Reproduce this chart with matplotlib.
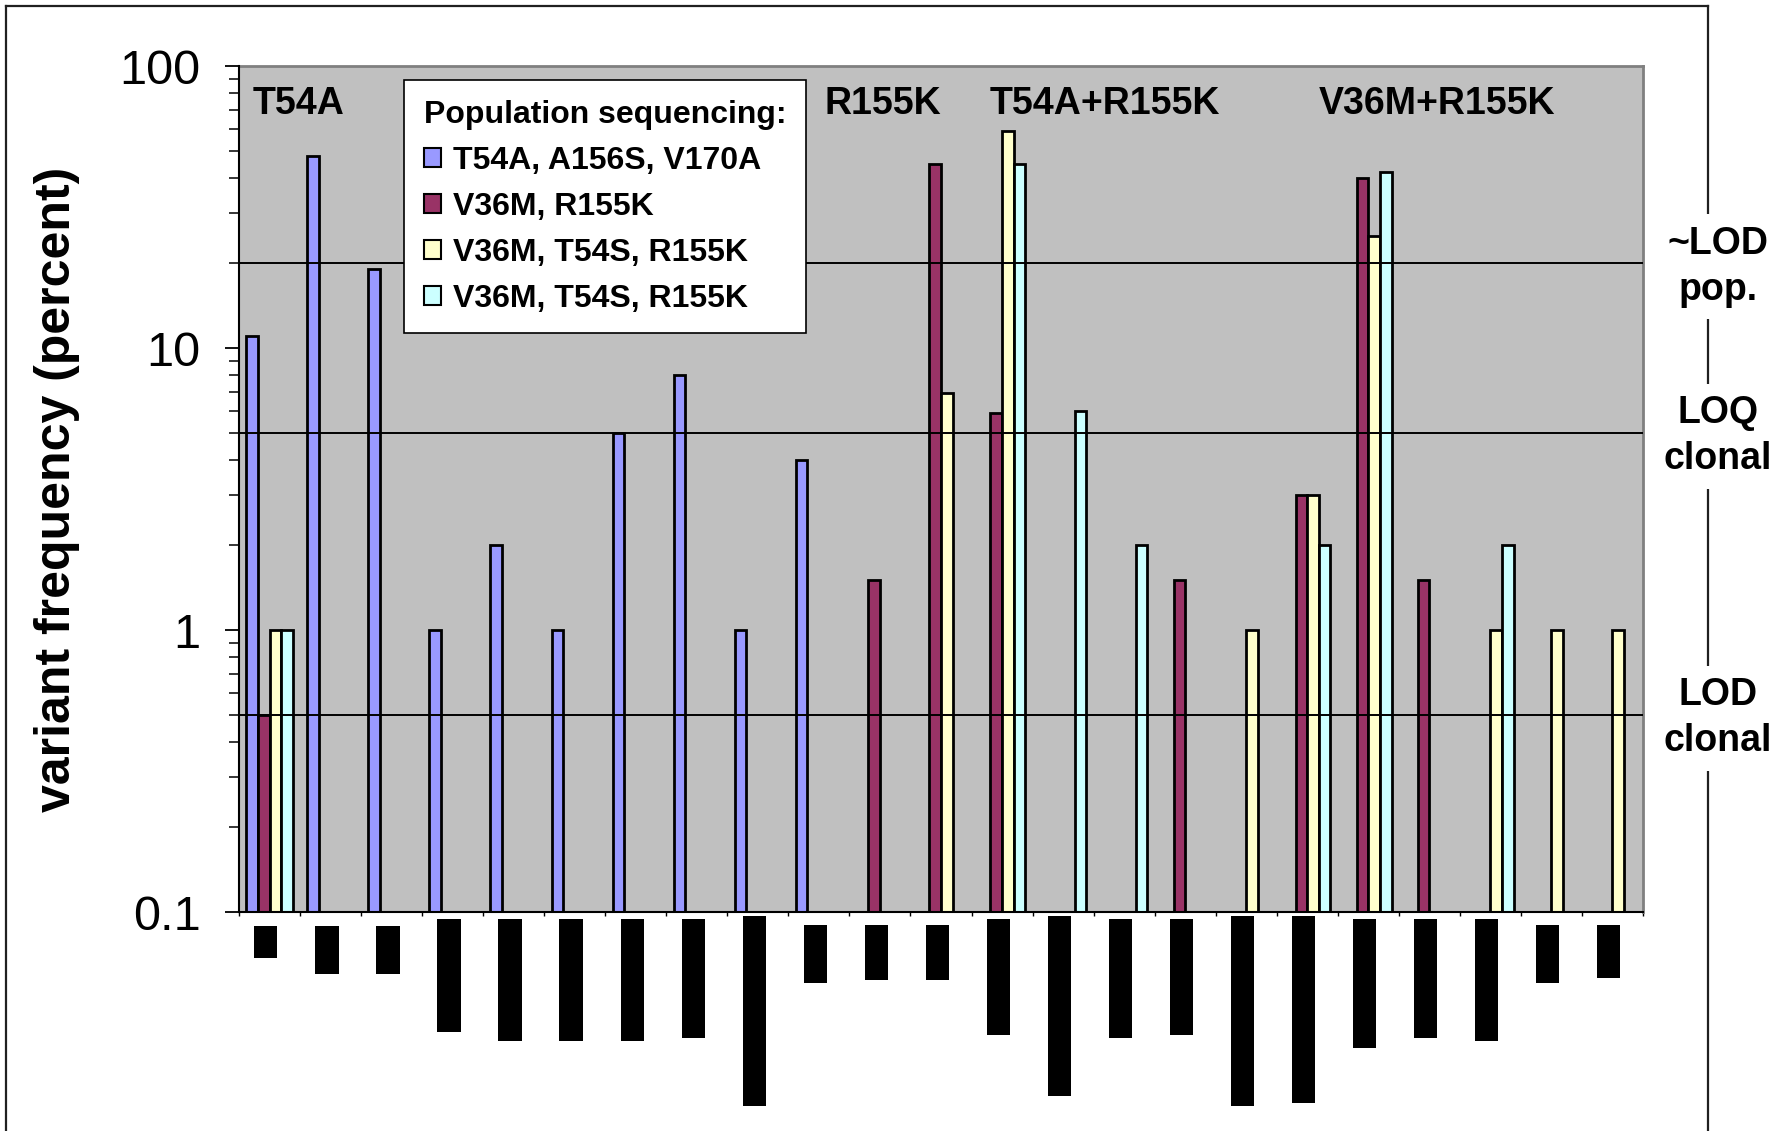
import numpy as np
import matplotlib
matplotlib.use("Agg")
import matplotlib.pyplot as plt
from matplotlib.patches import Patch
from matplotlib.lines import Line2D
from matplotlib.transforms import blended_transform_factory, offset_copy
from matplotlib.ticker import LogLocator, FixedLocator, NullFormatter, FixedFormatter

nan = np.nan

# ---------------- data ----------------
n_groups = 23
series_labels = ["T54A, A156S, V170A", "V36M, R155K", "V36M, T54S, R155K", "V36M, T54S, R155K"]
series_colors = ["#9999FF", "#993366", "#FFFFCC", "#CCFFFF"]

blue   = [11, 48, 19, 1, 2, 1, 5, 8, 1, 4, nan, nan, nan, nan, nan, nan, nan, nan, nan, nan, nan, nan, nan]
maroon = [0.5, nan, nan, nan, nan, nan, nan, nan, nan, nan, 1.5, 45, 5.9, nan, nan, 1.5, nan, 3, 40, 1.5, nan, nan, nan]
yellow = [1, nan, nan, nan, nan, nan, nan, nan, nan, nan, nan, 6.9, 59, nan, nan, nan, 1, 3, 25, nan, 1, 1, 1]
cyan   = [1, nan, nan, nan, nan, nan, nan, nan, nan, nan, nan, nan, 45, 6, 2, nan, nan, 2, 42, nan, 2, nan, nan]

# black bars below the axis (depth units below the category axis)
lower_top    = [12.4, 12.4, 12.4, 6.3, 6.3, 6.3, 6.3, 6.3, 3.6, 11.6, 11.6, 11.6, 6.3, 3.6, 6.3, 6.3, 3.6, 3.6, 6.3, 6.3, 6.3, 11.6, 11.6]
lower_bottom = [40.3, 54.4, 54.4, 105.4, 113.3, 113.3, 113.3, 110.7, 170.5, 62.3, 59.7, 59.7, 108.0, 161.7, 110.7, 108.0, 170.5, 167.8, 119.5, 110.7, 113.3, 62.3, 58.4]

group_titles = ["T54A", "R155K", "T54A+R155K", "V36M+R155K"]
group_title_x = [-0.28, 9.09, 11.79, 17.19]

thresholds = [20, 5, 0.5]
threshold_labels = ["~LOD\npop.", "LOQ\nclonal", "LOD\nclonal"]

ytick_vals = [0.1, 1, 10, 100]
ytick_labels = ["0.1", "1", "10", "100"]

# ---------------- figure ----------------
W, H = 1783, 1131
fig = plt.figure(figsize=(W / 100, H / 100), dpi=100)
FONT = "Liberation Sans"
plt.rcParams["font.family"] = [FONT, "DejaVu Sans"]

ax_l, ax_r, ax_t, ax_b = 239 / W, 1643 / W, 1 - 66 / H, 1 - 912 / H
ax = fig.add_axes([ax_l, ax_b, ax_r - ax_l, ax_t - ax_b])
ax.set_facecolor("#C0C0C0")
ax.set_yscale("log")
ax.set_ylim(0.1, 100)
ax.set_xlim(-0.5, n_groups - 0.5)

x = np.arange(n_groups)
w = 0.19
for k, (vals, col) in enumerate(zip([blue, maroon, yellow, cyan], series_colors)):
    ax.bar(x + (k - 1.5) * w, np.array(vals, dtype=float), width=w, color=col,
           edgecolor="black", linewidth=2.0, zorder=2)

for t in thresholds:
    ax.axhline(t, color="black", linewidth=1.4, zorder=3)

# spines
for s in ["top", "right"]:
    ax.spines[s].set_color("#808080")
    ax.spines[s].set_linewidth(2)
for s in ["left", "bottom"]:
    ax.spines[s].set_color("black")
    ax.spines[s].set_linewidth(1.5)
    ax.spines[s].set_zorder(4)

ax.yaxis.set_major_locator(FixedLocator(ytick_vals))
ax.yaxis.set_major_formatter(FixedFormatter(ytick_labels))
ax.yaxis.set_minor_locator(LogLocator(base=10, subs=np.arange(2, 10)))
ax.yaxis.set_minor_formatter(NullFormatter())
ax.tick_params(axis="y", which="major", length=10, width=1.3, direction="out",
               labelsize=35, pad=17.5, colors="black")
ax.tick_params(axis="y", which="minor", length=7, width=1.1, direction="out", colors="black")
for lab in ax.get_yticklabels():
    lab.set_family(FONT)

ax.xaxis.set_major_locator(FixedLocator(np.arange(-0.5, n_groups, 1.0)))
ax.xaxis.set_major_formatter(NullFormatter())
ax.tick_params(axis="x", which="major", length=3, width=1.0, direction="out", colors="black")

fig.text(57 / W, 1 - 489 / H, "variant frequency (percent)", rotation=90, ha="center", va="center",
         fontsize=36, fontweight="bold", family=FONT)

# group titles
for gx, gt in zip(group_title_x, group_titles):
    ax.text(gx, 0.955, gt, transform=blended_transform_factory(ax.transData, ax.transAxes),
            ha="left", va="center", fontsize=27, fontweight="bold", family=FONT, zorder=6)

# legend
handles = [Patch(facecolor=c, edgecolor="black", linewidth=1.5) for c in series_colors]
leg = ax.legend(handles, series_labels, title="Population sequencing:", loc="upper left",
                bbox_to_anchor=(0.1175, 0.9835), borderaxespad=0, frameon=True, fancybox=False,
                edgecolor="black", framealpha=1, facecolor="white",
                prop={"family": FONT, "weight": "bold", "size": 23},
                title_fontproperties={"family": FONT, "weight": "bold", "size": 23},
                handlelength=0.55, handleheight=0.55, handletextpad=0.35, labelspacing=0.5,
                borderpad=0.62, alignment="left")
leg.get_frame().set_linewidth(1.2)
leg.set_zorder(7)

# lower black bars
axb = fig.add_axes([ax_l, 0, ax_r - ax_l, ax_b])
axb.set_xlim(-0.5, n_groups - 0.5)
axb.set_ylim((H - 912) / 1.137, 0)
axb.bar(x - 0.06, np.array(lower_bottom) - np.array(lower_top), bottom=lower_top, width=0.38, color="black")
axb.axis("off")

# frame (drawn beneath the axes so the labels can cover it)
frame_col = "#202020"
for xs, ys in [([6 / W, 6 / W], [0, 1 - 6 / H]),
               ([6 / W, 1708 / W], [1 - 6 / H, 1 - 6 / H]),
               ([1708 / W, 1708 / W], [0, 1 - 6 / H])]:
    fig.add_artist(Line2D(xs, ys, color=frame_col, linewidth=1.6, zorder=-1))

# threshold annotations
tr = offset_copy(blended_transform_factory(fig.transFigure, ax.transData), fig=fig, y=-2.5, units="points")
for t, lab in zip(thresholds, threshold_labels):
    ax.text(1718 / W, t, lab, transform=tr, ha="center", va="center", multialignment="center",
            fontsize=27, fontweight="bold", family=FONT, linespacing=1.36, clip_on=False,
            bbox=dict(facecolor="white", edgecolor="none", pad=8), zorder=10)

fig.savefig("out.png", dpi=100)
